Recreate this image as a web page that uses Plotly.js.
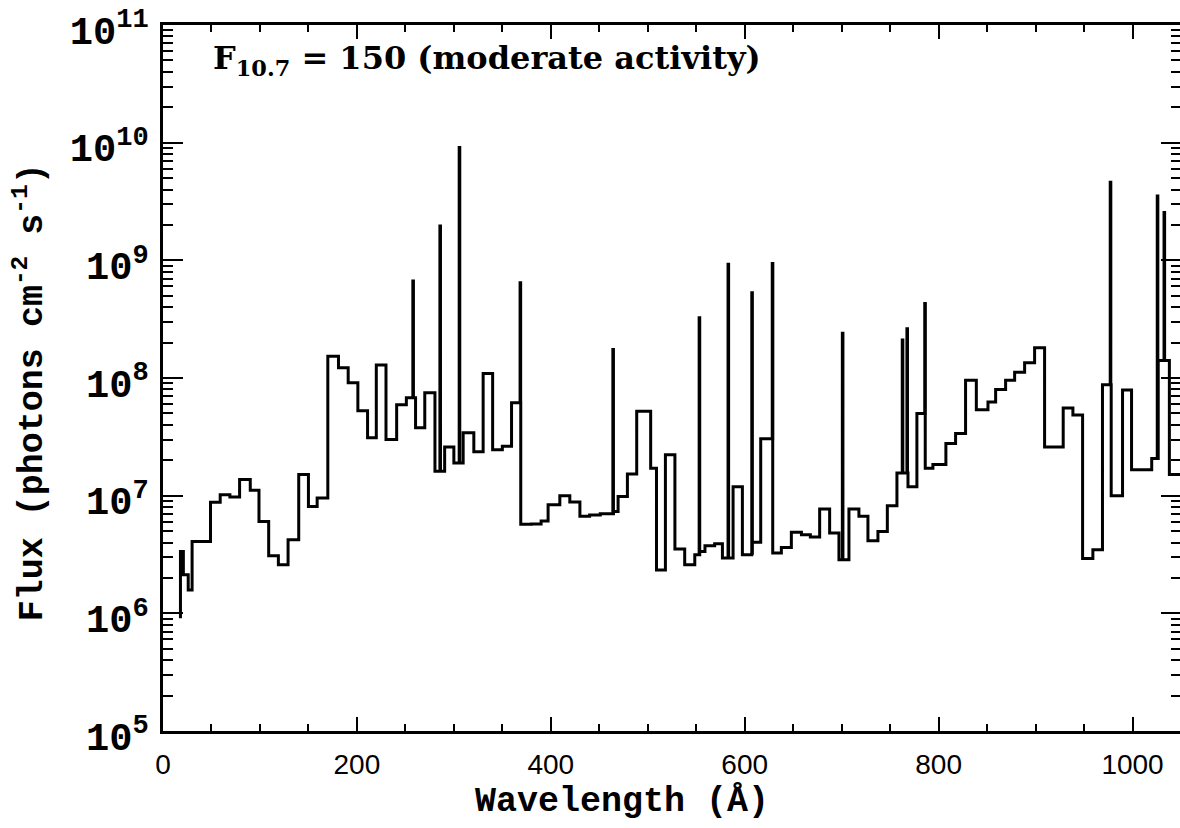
<!DOCTYPE html>
<html>
<head>
<meta charset="utf-8">
<script src="https://cdn.plot.ly/plotly-3.0.1.min.js"></script>
<style>
html, body { margin: 0; padding: 0; overflow: hidden; background: #fff; }
#chart { width: 1200px; height: 828px; }
</style>
</head>
<body>
<div id="chart"></div>
<script>
// Continuum bin edges (Å) and flux per bin (photons cm^-2 s^-1)
const binEdges = [18, 18, 21, 26, 30, 49, 59, 69, 79, 90, 99, 109, 119, 129, 140, 150, 159, 170, 181, 191,
  201, 211, 220, 230, 241, 251, 260.5, 270, 280.5, 290.5, 300, 309.6, 320.6, 330.2, 340, 350, 359.5, 369,
  380, 390, 397.2, 409.3, 419.6, 430, 440, 451, 464.5, 469.4, 479, 488.6, 503, 509, 518.2, 528, 538.1,
  548.5, 553.5, 559, 569, 577, 588, 597.6, 607.9, 616.5, 628.9, 637.8, 648.1, 658.5, 667.7, 677.3, 687.6,
  697.2, 707.5, 717.8, 727.1, 737.4, 747.1, 757, 768.4, 777.6, 786.2, 794.1, 807.5, 817.5, 827.8, 838.9,
  850.9, 858.8, 869.1, 878.4, 888.7, 899, 909.3, 928.5, 938.5, 948.5, 959.1, 969, 978, 989.7, 999, 1019.8,
  1026.5, 1038, 1050];
const binFlux = [9.1e5, 3.36e6, 2.13e6, 1.58e6, 4.08e6, 8.8e6, 1.02e7, 9.75e6, 1.37e7, 1.11e7, 6.04e6,
  3.08e6, 2.59e6, 4.23e6, 1.51e7, 8.11e6, 9.55e6, 1.53e8, 1.22e8, 9.1e7, 5.28e7, 3.1e7, 1.29e8, 3.0e7,
  5.94e7, 6.78e7, 3.77e7, 7.48e7, 1.61e7, 2.59e7, 1.9e7, 3.42e7, 2.36e7, 1.09e8, 2.46e7, 2.63e7, 6.15e7,
  5.71e6, 5.75e6, 6.1e6, 8.38e6, 1.0e7, 8.83e6, 6.67e6, 6.84e6, 7.03e6, 7.35e6, 9.86e6, 1.53e7, 5.22e7,
  1.71e7, 2.33e6, 2.23e7, 3.53e6, 2.59e6, 3.15e6, 3.36e6, 3.75e6, 3.9e6, 2.95e6, 1.19e7, 3.15e6, 4.01e6,
  3.04e7, 3.25e6, 3.63e6, 4.88e6, 4.66e6, 4.45e6, 7.71e6, 4.81e6, 2.85e6, 7.71e6, 6.67e6, 4.14e6, 4.97e6,
  8.22e6, 1.56e7, 1.19e7, 5.0e7, 1.71e7, 1.84e7, 2.77e7, 3.37e7, 9.55e7, 5.37e7, 6.24e7, 7.98e7, 9.55e7,
  1.12e8, 1.35e8, 1.81e8, 2.59e7, 5.57e7, 4.84e7, 2.92e6, 3.47e6, 8.77e7, 1.0e7, 7.9e7, 1.66e7, 2.07e7,
  1.41e8, 1.51e7];
// Strong emission lines: wavelength (Å) and peak flux
const lineWl   = [257.7, 285.6, 305.5, 368.3, 464.0, 553.0, 582.8, 607.3, 628.4, 700.7, 762.5, 767.3,
  785.7, 977.0, 1025.5, 1032.5];
const linePeak = [6.67e8, 1.96e9, 9.1e9, 6.46e8, 1.75e8, 3.25e8, 9.25e8, 5.3e8, 9.4e8, 2.4e8, 2.1e8,
  2.62e8, 4.3e8, 4.62e9, 3.52e9, 2.55e9];

const lineWidthA = 0.6;
const xs = [], ys = [];
for (let i = 0; i < binFlux.length; i++) {
  const left = binEdges[i], right = binEdges[i + 1];
  xs.push(left); ys.push(binFlux[i]);
  for (let k = 0; k < lineWl.length; k++) {
    if (lineWl[k] >= left && lineWl[k] < right) {
      xs.push(lineWl[k]); ys.push(linePeak[k]);
      xs.push(lineWl[k] + lineWidthA); ys.push(binFlux[i]);
    }
  }
}
xs.push(binEdges[binEdges.length - 1]); ys.push(binFlux[binFlux.length - 1]);

const titleFont = {family: 'Liberation Mono', size: 35, color: '#000', weight: 'bold'};

Plotly.newPlot('chart', [{
  x: xs, y: ys, type: 'scatter', mode: 'lines',
  line: {shape: 'hv', color: '#000', width: 3},
  hoverinfo: 'x+y'
}], {
  width: 1200, height: 828,
  margin: {l: 163, r: 18.5, t: 25, b: 97},
  paper_bgcolor: '#fff', plot_bgcolor: '#fff',
  showlegend: false,
  xaxis: {
    range: [0, 1050], tick0: 0, dtick: 200,
    ticks: 'inside', ticklen: 14, tickwidth: 2, tickcolor: '#000',
    minor: {dtick: 50, ticks: 'inside', ticklen: 7, tickwidth: 2, tickcolor: '#000'},
    showline: true, linewidth: 3, linecolor: '#000', mirror: 'allticks',
    showgrid: false, zeroline: false,
    tickfont: {family: 'Liberation Sans', size: 28, color: '#000'},
    ticklabelstandoff: 6
  },
  yaxis: {
    type: 'log', range: [5, 11.0002], dtick: 1,
    exponentformat: 'power', showexponent: 'all',
    ticks: 'inside', ticklen: 20, tickwidth: 2, tickcolor: '#000',
    minor: {dtick: 'D1', ticks: 'inside', ticklen: 10, tickwidth: 2, tickcolor: '#000'},
    showline: true, linewidth: 3, linecolor: '#000', mirror: 'allticks',
    showgrid: false, zeroline: false,
    tickfont: {family: 'Liberation Mono', size: 31, color: '#000', weight: 'bold'},
    ticklabelstandoff: 5, ticklabelshift: 5, ticklabeloverflow: 'allow'
  },
  annotations: [{
    text: 'F<sub>10.7</sub> = 150 (moderate activity)',
    xref: 'x', yref: 'paper', x: 50, y: 0.95, xanchor: 'left', yanchor: 'middle',
    showarrow: false,
    font: {family: 'DejaVu Serif', size: 32, color: '#000', weight: 'bold'}
  }, {
    text: 'Wavelength (Å)',
    xref: 'paper', yref: 'paper', x: 0.4507, y: -0.1006, xanchor: 'center', yanchor: 'middle',
    showarrow: false,
    font: titleFont
  }, {
    text: 'Flux (photons cm<sup>-2</sup> s<sup>-1</sup>)',
    xref: 'paper', yref: 'paper', x: -0.1306, y: 0.480, xanchor: 'center', yanchor: 'middle',
    textangle: -90, showarrow: false,
    font: titleFont
  }]
}, {displayModeBar: false, staticPlot: true});
</script>
</body>
</html>
